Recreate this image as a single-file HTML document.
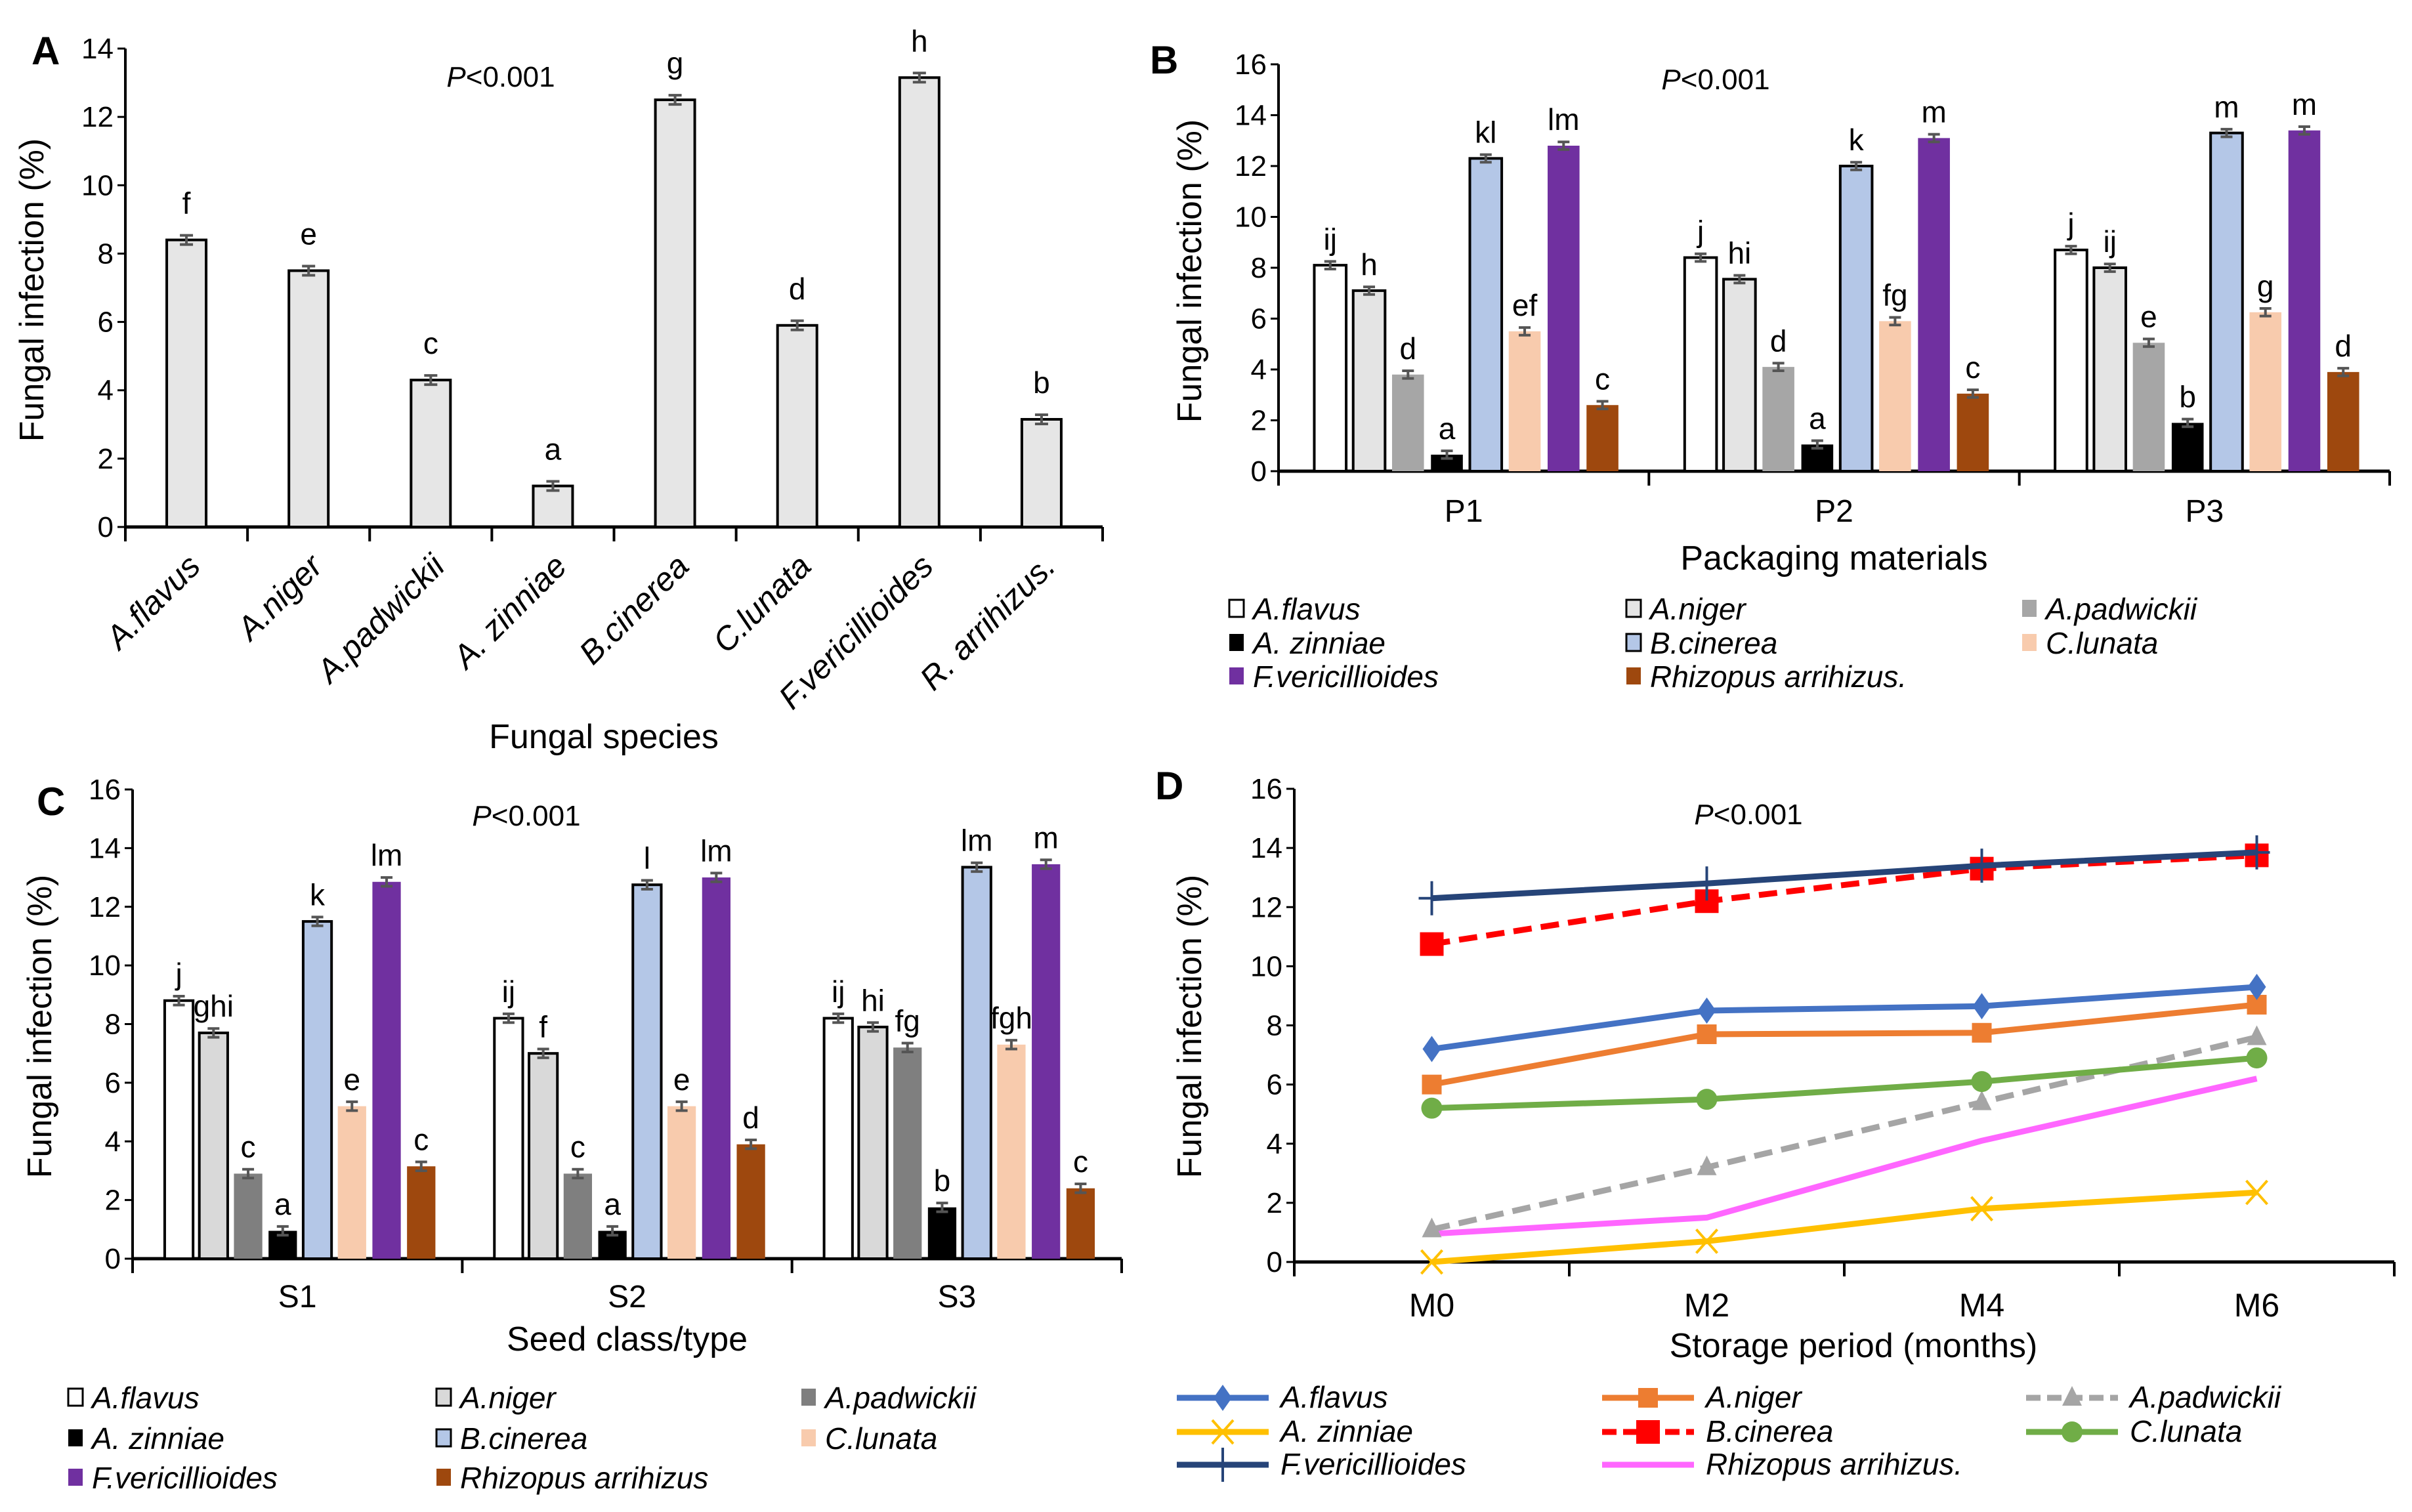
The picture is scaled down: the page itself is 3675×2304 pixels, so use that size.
<!DOCTYPE html>
<html><head><meta charset="utf-8"><style>
html,body{margin:0;padding:0;background:#fff}
svg{display:block;font-family:"Liberation Sans",Arial,sans-serif}
</style></head><body>
<svg id="fig" xmlns="http://www.w3.org/2000/svg" width="3675" height="2304" viewBox="0 0 3675 2304"></svg>
<script>
// ---- data ----
const speciesA = ["A.flavus","A.niger","A.padwickii","A. zinniae","B.cinerea","C.lunata","F.vericillioides","R. arrihizus."];
const valuesA = [8.4,7.5,4.3,1.2,12.5,5.9,13.15,3.15];
const lettersA = ["f","e","c","a","g","d","h","b"];
const ticksA = [0,2,4,6,8,10,12,14];

const groupsB = ["P1","P2","P3"];
const valsB_P1 = [8.1,7.1,3.8,0.65,12.3,5.5,12.8,2.6];
const valsB_P2 = [8.4,7.55,4.1,1.05,12.0,5.9,13.1,3.05];
const valsB_P3 = [8.7,8.0,5.05,1.9,13.3,6.25,13.4,3.9];
const letB_P1 = ["ij","h","d","a","kl","ef","lm","c"];
const letB_P2 = ["j","hi","d","a","k","fg","m","c"];
const letB_P3 = ["j","ij","e","b","m","g","m","d"];
const ticks16 = [0,2,4,6,8,10,12,14,16];

const groupsC = ["S1","S2","S3"];
const valsC_S1 = [8.8,7.7,2.9,0.95,11.5,5.2,12.85,3.15];
const valsC_S2 = [8.2,7.0,2.9,0.95,12.75,5.2,13.0,3.9];
const valsC_S3 = [8.2,7.9,7.2,1.75,13.35,7.3,13.45,2.4];
const letC_S1 = ["j","ghi","c","a","k","e","lm","c"];
const letC_S2 = ["ij","f","c","a","l","e","lm","d"];
const letC_S3 = ["ij","hi","fg","b","lm","fgh","m","c"];

const monthsD = ["M0","M2","M4","M6"];
const dFlavus = [7.2,8.5,8.65,9.3];
const dNiger = [6.0,7.7,7.75,8.7];
const dPadwickii = [1.1,3.2,5.4,7.6];
const dZinniae = [0,0.7,1.8,2.35];
const dCinerea = [10.75,12.2,13.3,13.75];
const dLunata = [5.2,5.5,6.1,6.9];
const dVerticil = [12.3,12.8,13.4,13.85];
const dRhizopus = [0.95,1.5,4.1,6.2];

const legNames = ["A.flavus","A.niger","A.padwickii","A. zinniae","B.cinerea","C.lunata","F.vericillioides","Rhizopus arrihizus."];
const legNamesC = ["A.flavus","A.niger","A.padwickii","A. zinniae","B.cinerea","C.lunata","F.vericillioides","Rhizopus arrihizus"];

// ---- helpers ----
const NS="http://www.w3.org/2000/svg";
const svg=document.getElementById('fig');
function el(tag,attrs,parent,text){
  const e=document.createElementNS(NS,tag);
  for(const k in attrs)e.setAttribute(k,attrs[k]);
  if(text!==undefined)e.textContent=text;
  (parent||svg).appendChild(e);return e;
}
function txt(x,y,s,size,opts,parent){
  opts=opts||{};
  const t=el('text',{x:x,y:y,'font-size':size,'text-anchor':opts.anchor||'middle',fill:opts.fill||'#000'},parent,s);
  if(opts.italic)t.setAttribute('font-style','italic');
  if(opts.bold)t.setAttribute('font-weight','bold');
  if(opts.transform)t.setAttribute('transform',opts.transform);
  return t;
}
function yAxis(g,ax,ticks,name){
  const sc=v=>ax.y0-(v-ax.min)/(ax.max-ax.min)*(ax.y0-ax.y1);
  const line=el('line',{x1:ax.x0,y1:ax.y1,x2:ax.x0,y2:ax.y0,stroke:'#000','stroke-width':4},g);
  
  
  ticks.forEach(v=>{
    el('line',{x1:ax.x0-12,y1:sc(v),x2:ax.x0,y2:sc(v),stroke:'#000','stroke-width':3},g);
    const t=txt(ax.x0-18,sc(v)+15,String(v),44,{anchor:'end'},g);
    
    
  });
  return sc;
}
const barColors=['#ffffff','#e4e4e4','#a6a6a6','#000000','#b4c7e7','#f8cbad','#7030a0','#9e480e'];
const barColorsC=['#ffffff','#d9d9d9','#7f7f7f','#000000','#b4c7e7','#f8cbad','#7030a0','#9e480e'];
const bordered=[true,true,false,false,true,false,false,false];

function groupedChart(name,ax,groups,vals,lets,colors,xTitle,xTitleY,labelY){
  const g=el('g',{});
  
  
  const sc=yAxis(g,ax,ticks16,name);
  const W=(ax.x1-ax.x0)/groups.length;
  const p=W*0.105,bw=p*0.82;
  el('line',{x1:ax.x0,y1:ax.y0,x2:ax.x1,y2:ax.y0,stroke:'#000','stroke-width':5},g);
  for(let i=0;i<=groups.length;i++)el('line',{x1:ax.x0+i*W,y1:ax.y0,x2:ax.x0+i*W,y2:ax.y0+22,stroke:'#000','stroke-width':4},g);
  groups.forEach((gn,gi)=>{
    const gx=ax.x0+gi*W+(W-8*p)/2+(p-bw)/2+4;
    vals[gi].forEach((v,si)=>{
      const x=gx+si*p, y=sc(v);
      const r=el('rect',{x:x,y:y,width:bw,height:ax.y0-y,fill:colors[si],stroke:bordered[si]?'#000':'none','stroke-width':4},g);
      
      
      const e=(ax.y0-ax.y1)/16*0.15, cx=x+bw/2;
      el('path',{d:`M${cx},${y-e}V${y+e}M${cx-9},${y-e}H${cx+9}M${cx-9},${y+e}H${cx+9}`,stroke:'#555','stroke-width':4,fill:'none'},g);
      const t=txt(cx,y-e-18,lets[gi][si],46,{},g);
      
      
    });
    const gl=txt(ax.x0+gi*W+W/2,labelY,gn,48,{},g);
    
    
  });
  const xt=txt((ax.x0+ax.x1)/2,xTitleY,xTitle,52,{},g);
  
  
  return g;
}
function barLegend(name,xs,ys,names,colors){
  const g=el('g',{});
  
  
  names.forEach((n,i)=>{
    const x=xs[i%3],y=ys[Math.floor(i/3)];
    const eg=el('g',{},g);
    
    
    el('rect',{x:x,y:y-30,width:22,height:26,fill:colors[i],stroke:bordered[i]?'#000':'none','stroke-width':3},eg);
    txt(x+36,y,n,46,{anchor:'start',italic:true},eg);
  });
}
function yTitle(x,y,name){
  const t=txt(x,y,'Fungal infection (%)',52,{transform:`rotate(-90 ${x} ${y})`});
  
  
}
function pval(x,y){
  const t=el('text',{x:x,y:y,'font-size':44,'text-anchor':'middle'});
  el('tspan',{'font-style':'italic'},t,'P');
  el('tspan',{},t,'<0.001');
  
  
}
function panelLetter(x,y,s){
  const t=txt(x,y,s,60,{bold:true,anchor:'start'});
  
  
}

// ---- Panel A ----
(function(){
  const ax={x0:191,x1:1680,y0:803,y1:74,min:0,max:14};
  const g=el('g',{});
  
  
  const sc=yAxis(g,ax,ticksA,'panel-a');
  el('line',{x1:ax.x0,y1:ax.y0,x2:ax.x1,y2:ax.y0,stroke:'#000','stroke-width':5},g);
  const W=(ax.x1-ax.x0)/speciesA.length, bw=60;
  for(let i=0;i<=speciesA.length;i++)el('line',{x1:ax.x0+i*W,y1:ax.y0,x2:ax.x0+i*W,y2:ax.y0+22,stroke:'#000','stroke-width':4},g);
  speciesA.forEach((s,i)=>{
    const cx=ax.x0+i*W+W/2, y=sc(valuesA[i]);
    const r=el('rect',{x:cx-bw/2,y:y,width:bw,height:ax.y0-y,fill:'#e6e6e6',stroke:'#000','stroke-width':4},g);
    
    
    const e=7;
    el('path',{d:`M${cx},${y-e}V${y+e}M${cx-10},${y-e}H${cx+10}M${cx-10},${y+e}H${cx+10}`,stroke:'#555','stroke-width':4,fill:'none'},g);
    const lt=txt(cx,y-40,lettersA[i],46,{},g);
    
    
    const xl=txt(cx+24,866,s,50,{anchor:'end',italic:true,transform:`rotate(-45 ${cx+24} 866)`},g);
    
    
  });
  const xt=txt(920,1140,'Fungal species',52,{},g);
  
  
})();
panelLetter(48,98,'A');
yTitle(66,442,'panel-a-y-axis-title');
pval(763,132);

// ---- Panel B ----
groupedChart('panel-b-chart',{x0:1948,x1:3641,y0:718,y1:98,min:0,max:16},groupsB,[valsB_P1,valsB_P2,valsB_P3],[letB_P1,letB_P2,letB_P3],barColors,'Packaging materials',868,795);
panelLetter(1752,112,'B');
yTitle(1830,413,'panel-b-y-axis-title');
pval(2614,136);
barLegend('panel-b-legend',[1873,2478,3081],[944,996,1047],legNames,barColors);

// ---- Panel C ----
groupedChart('panel-c-chart',{x0:202,x1:1709,y0:1918,y1:1203,min:0,max:16},groupsC,[valsC_S1,valsC_S2,valsC_S3],[letC_S1,letC_S2,letC_S3],barColorsC,'Seed class/type',2058,1992);
panelLetter(56,1242,'C');
yTitle(78,1564,'panel-c-y-axis-title');
pval(802,1258);
barLegend('panel-c-legend',[104,665,1221],[2146,2208,2268],legNamesC,barColorsC);

// ---- Panel D ----
const seriesD=[
 {n:'A.flavus',v:dFlavus,c:'#4472c4',m:'diamond'},
 {n:'A.niger',v:dNiger,c:'#ed7d31',m:'square'},
 {n:'A.padwickii',v:dPadwickii,c:'#a5a5a5',m:'triangle',dash:true},
 {n:'A. zinniae',v:dZinniae,c:'#ffc000',m:'x'},
 {n:'B.cinerea',v:dCinerea,c:'#ff0000',m:'star',dash:true},
 {n:'C.lunata',v:dLunata,c:'#70ad47',m:'circle'},
 {n:'F.vericillioides',v:dVerticil,c:'#264478',m:'plus'},
 {n:'Rhizopus arrihizus.',v:dRhizopus,c:'#ff66ff',m:'none'}
];
function marker(g,m,x,y,c){
  if(m==='diamond')el('path',{d:`M${x},${y-20}L${x+14},${y}L${x},${y+20}L${x-14},${y}Z`,fill:c},g);
  else if(m==='square')el('rect',{x:x-15,y:y-15,width:30,height:30,fill:c},g);
  else if(m==='triangle')el('path',{d:`M${x},${y-18}L${x+15},${y+12}L${x-15},${y+12}Z`,fill:c},g);
  else if(m==='x')el('path',{d:`M${x-16},${y-18}L${x+16},${y+18}M${x+16},${y-18}L${x-16},${y+18}`,stroke:c,'stroke-width':4},g);
  else if(m==='star')el('rect',{x:x-18,y:y-18,width:36,height:36,fill:c},g);
  else if(m==='circle')el('circle',{cx:x,cy:y,r:16,fill:c},g);
  else if(m==='plus')el('path',{d:`M${x-20},${y}H${x+20}M${x},${y-26}V${y+26}`,stroke:c,'stroke-width':4},g);
}
(function(){
  const ax={x0:1972,x1:3648,y0:1923,y1:1202,min:0,max:16};
  const g=el('g',{});
  
  
  const sc=yAxis(g,ax,ticks16,'panel-d');
  el('line',{x1:ax.x0,y1:ax.y0,x2:ax.x1,y2:ax.y0,stroke:'#000','stroke-width':5},g);
  const W=(ax.x1-ax.x0)/monthsD.length;
  for(let i=0;i<=monthsD.length;i++)el('line',{x1:ax.x0+i*W,y1:ax.y0,x2:ax.x0+i*W,y2:ax.y0+22,stroke:'#000','stroke-width':4},g);
  const xs=i=>ax.x0+i*W+W/2;
  monthsD.forEach((m,i)=>{
    const t=txt(xs(i),2006,m,50,{},g);
    
    
  });
  const order=[7,2,3,5,1,0,4,6];
  order.forEach(k=>{
    const s=seriesD[k];
    const sg=el('g',{},g);
    
    
    const pts=s.v.map((v,i)=>xs(i)+','+sc(v)).join(' ');
    const pl=el('polyline',{points:pts,fill:'none',stroke:s.c,'stroke-width':9,'stroke-linejoin':'round'},sg);
    if(s.dash)pl.setAttribute('stroke-dasharray','28,14');
    s.v.forEach((v,i)=>marker(sg,s.m,xs(i),sc(v),s.c));
  });
  const xt=txt(2824,2068,'Storage period (months)',52,{},g);
  
  
  // legend
  const lg=el('g',{});
  
  
  const lx=[1793,2441,3087],ly=[2130,2182,2232];
  seriesD.forEach((s,i)=>{
    const x=lx[i%3],y=ly[Math.floor(i/3)];
    const eg=el('g',{},lg);
    
    
    const ln=el('line',{x1:x,y1:y,x2:x+140,y2:y,stroke:s.c,'stroke-width':9},eg);
    if(s.dash)ln.setAttribute('stroke-dasharray','22,10');
    marker(eg,s.m,x+70,y,s.c);
    txt(x+158,y+15,s.n,46,{anchor:'start',italic:true},eg);
  });
})();
panelLetter(1760,1218,'D');
yTitle(1830,1564,'panel-d-y-axis-title');
pval(2664,1256);
</script>
</body></html>
